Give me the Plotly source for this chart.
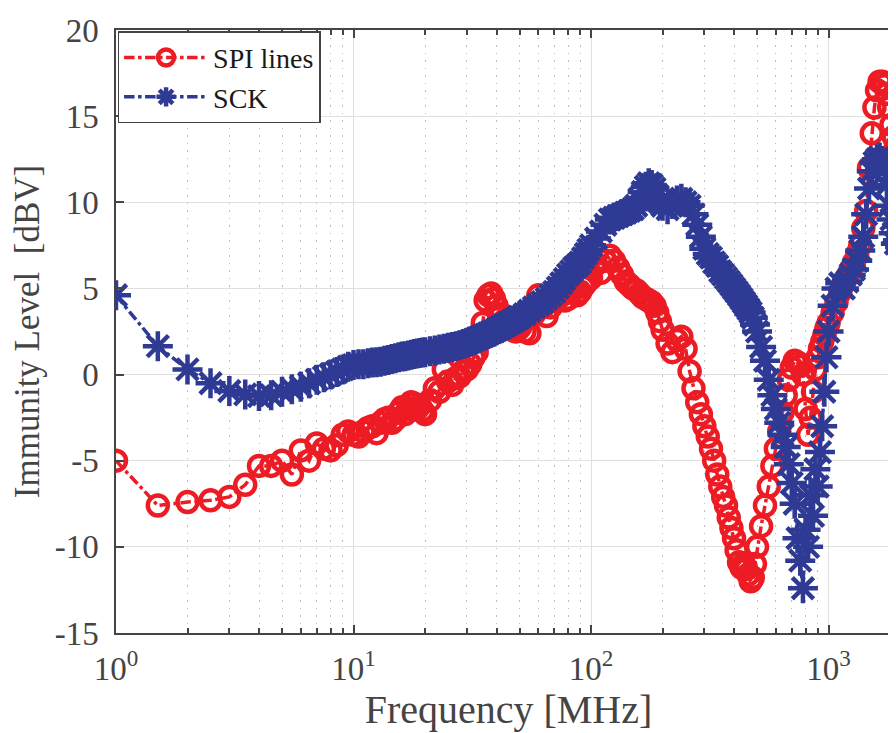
import plotly.graph_objects as go

freq_mhz = [1, 1.5, 2, 2.5, 3, 3.5, 4, 4.5, 5, 5.5, 6, 6.5, 7, 7.5, 8, 8.5, 9, 9.5, 10,
            10.5, 11, 11.5, 12, 12.5, 13, 13.5, 14, 14.5, 15, 15.5, 16, 16.5, 17, 17.5, 18, 18.5, 19, 19.5, 20,
            21, 22, 23, 24, 25, 26, 27, 28, 29, 30, 31, 32, 33, 34, 35, 36, 37, 38, 39, 40,
            41, 42, 43, 44, 45, 46, 47, 48, 49, 50,
            52.5, 55, 57.5, 60, 62.5, 65, 67.5, 70, 72.5, 75, 77.5, 80, 82.5, 85, 87.5, 90, 92.5, 95, 97.5, 100,
            105, 110, 115, 120, 125, 130, 135, 140, 145, 150, 155, 160, 165, 170, 175, 180, 185, 190, 195, 200,
            210, 220, 230, 240, 250, 260, 270, 280, 290, 300, 310, 320, 330, 340, 350, 360, 370, 380, 390, 400,
            410, 420, 430, 440, 450, 460, 470, 480, 490, 500,
            520, 540, 560, 580, 600, 620, 640, 660, 680, 700, 720, 740, 760, 780, 800, 820, 840, 860, 880, 900,
            920, 940, 960, 980, 1000,
            1040, 1080, 1120, 1160, 1200, 1240, 1280, 1320, 1360, 1400, 1440, 1480, 1520, 1560, 1600, 1640, 1680,
            1720, 1760, 1800, 1840, 1880, 1920, 1960, 2000]

spi_lines = [-5.0, -7.6, -7.4, -7.3, -7.1, -6.4, -5.3, -5.3, -5.0, -5.8, -4.4, -5.0, -4.0, -4.3, -4.4, -4.1, -3.5, -3.3, -3.5,
             -3.6, -3.3, -3.1, -3.0, -3.4, -2.8, -2.6, -2.5, -2.8, -2.6, -2.2, -1.9, -2.3, -2.0, -1.6, -1.7, -2.0, -1.8, -2.1, -2.3,
             -1.5, -0.8, -1.0, 0.3, -0.4, -0.6, -0.2, -0.1, 0.2, 0.3, 0.6, 1.0, 1.3, 2.0, 3.0, 4.3, 4.6, 4.7, 4.4, 4.0,
             3.4, 3.5, 3.1, 3.2, 2.9, 2.8, 2.6, 2.5, 2.6, 2.7,
             2.5, 2.4, 3.5, 4.6, 3.9, 3.4, 3.9, 4.4, 4.7, 4.6, 4.3, 4.4, 4.8, 5.0, 4.6, 4.8, 5.1, 5.3, 5.5, 5.6,
             6.4, 5.9, 6.6, 6.9, 6.6, 6.2, 5.8, 5.4, 5.2, 5.0, 4.9, 4.7, 4.5, 4.4, 4.3, 4.2, 4.0, 3.6, 3.1, 2.6,
             1.8, 1.3, 2.0, 2.2, 1.5, 0.2, -0.8, -1.6, -2.3, -3.0, -3.6, -4.3, -5.0, -5.8, -6.5, -7.1, -7.6, -8.3, -8.9, -9.5,
             -10.2, -10.9, -11.2, -11.0, -11.3, -11.6, -12.0, -11.8, -11.0, -10.0,
             -8.8, -7.6, -6.5, -5.3, -4.3, -3.3, -2.2, -1.2, -0.3, 0.4, 0.8, 0.7, 0.5, 0.0, -2.0, -3.5, -2.5, -1.0, 0.3, 1.0,
             1.5, 1.9, 2.3, 2.7, 3.0,
             3.6, 4.2, 4.8, 5.3, 5.7, 6.1, 6.5, 7.0, 7.5, 8.5, 9.5, 12.0, 14.0, 15.5, 16.5, 17.0, 17.0,
             16.8, 16.3, 15.5, 14.5, 13.8, 13.2, 12.8, 12.5]

sck = [4.6, 1.65, 0.3, -0.5, -0.95, -1.15, -1.25, -1.2, -1.0, -0.85, -0.7, -0.5, -0.3, -0.15, 0.0, 0.15, 0.3, 0.45, 0.55,
       0.6, 0.6, 0.65, 0.7, 0.72, 0.75, 0.8, 0.85, 0.9, 0.95, 1.0, 1.05, 1.07, 1.1, 1.15, 1.2, 1.22, 1.25, 1.28, 1.3,
       1.35, 1.4, 1.45, 1.5, 1.55, 1.6, 1.65, 1.7, 1.78, 1.85, 1.92, 2.0, 2.08, 2.15, 2.22, 2.3, 2.38, 2.45, 2.52, 2.6,
       2.68, 2.75, 2.82, 2.9, 2.98, 3.05, 3.12, 3.2, 3.28, 3.35,
       3.5, 3.7, 3.9, 4.05, 4.2, 4.4, 4.6, 4.8, 5.05, 5.3, 5.55, 5.8, 6.0, 6.2, 6.35, 6.5, 6.75, 7.0, 7.25, 7.5,
       7.9, 8.3, 8.7, 9.0, 9.1, 9.2, 9.3, 9.4, 9.5, 9.6, 9.8, 10.2, 10.6, 10.9, 11.1, 11.0, 10.8, 10.4, 10.0, 9.8,
       9.6, 9.9, 10.1, 10.2, 10.0, 9.8, 9.3, 8.7, 8.0, 7.3, 7.0, 6.8, 6.5, 6.3, 6.0, 5.8, 5.6, 5.4, 5.2, 5.0,
       4.8, 4.6, 4.4, 4.2, 4.0, 3.8, 3.6, 3.3, 2.9, 2.5,
       1.6, 0.8, -0.3, -1.2, -2.0, -2.8, -3.5, -4.2, -5.2, -6.3, -7.5, -9.5, -10.8, -12.4, -9.0, -10.0, -7.0, -8.2, -5.5, -6.5,
       -4.5, -3.0, -1.0, 1.0, 2.5,
       4.0, 5.0, 5.3, 5.0, 5.4, 5.8, 6.1, 6.6, 7.2, 8.0, 9.3, 10.8, 11.8, 12.3, 12.5, 12.6, 12.4,
       12.0, 11.0, 9.8, 9.0, 8.2, 7.6, 7.8, 7.4]

x_tick_vals = [1, 10, 100, 1000]
x_tick_text = ["10<sup>0</sup>", "10<sup>1</sup>", "10<sup>2</sup>", "10<sup>3</sup>"]
x_minor_vals = [m * d for d in (1, 10, 100, 1000) for m in range(2, 10) if m * d <= 2000]
y_tick_vals = [-15, -10, -5, 0, 5, 10, 15, 20]
y_tick_text = ["-15", "-10", "-5", "0", "5", "10", "15", "20"]

RED = "#ED1C24"
BLUE = "#2E3A94"
AXC = "#444444"
FONT = "Liberation Serif, Times New Roman, serif"

fig = go.Figure()
fig.add_trace(go.Scatter(
    x=freq_mhz, y=spi_lines, name="SPI lines", mode="lines+markers",
    line=dict(color=RED, width=3.5, dash="dashdot"),
    marker=dict(symbol="circle-open", size=20, color=RED, line=dict(width=4.5, color=RED)),
))
fig.add_trace(go.Scatter(
    x=freq_mhz, y=sck, name="SCK", mode="lines+markers",
    line=dict(color=BLUE, width=3.5, dash="dashdot"),
    marker=dict(symbol="asterisk-open", size=25, color=BLUE, line=dict(width=4.5, color=BLUE)),
))

fig.update_layout(
    width=896, height=733,
    margin=dict(l=108, r=1, t=22, b=108),
    paper_bgcolor="white", plot_bgcolor="white",
    font=dict(family=FONT, color=AXC, size=33),
    showlegend=True,
    legend=dict(
        x=0.002, y=0.998, xanchor="left", yanchor="top",
        bgcolor="white", bordercolor=AXC, borderwidth=1.5,
        font=dict(family=FONT, size=28, color="#1a1a1a"),
        itemwidth=84, tracegroupgap=0,
    ),
    xaxis=dict(
        type="log", range=[0, 3.305],
        tickvals=x_tick_vals, ticktext=x_tick_text,
        ticks="inside", ticklen=8, tickwidth=1.5, tickcolor=AXC,
        showline=True, linecolor=AXC, linewidth=1.5, mirror="ticks",
        showgrid=True, gridcolor="#E0E0E0", gridwidth=1.3,
        zeroline=False,
        minor=dict(tickvals=x_minor_vals, ticks="inside", ticklen=5, tickcolor=AXC,
                   showgrid=True, gridcolor="#BDBDBD", griddash="1.5px,6px", gridwidth=1.3),
        tickfont=dict(size=33, family=FONT, color=AXC),
        ticklabelstandoff=6,
        title=dict(text="Frequency [MHz]", font=dict(size=40, family=FONT, color=AXC), standoff=8),
    ),
    yaxis=dict(
        range=[-15, 20], tickvals=y_tick_vals, ticktext=y_tick_text,
        ticks="inside", ticklen=8, tickwidth=1.5, tickcolor=AXC,
        showline=True, linecolor=AXC, linewidth=1.5, mirror="ticks",
        showgrid=True, gridcolor="#E0E0E0", gridwidth=1.3,
        zeroline=False,
        tickfont=dict(size=33, family=FONT, color=AXC),
        ticklabelstandoff=9,
        title=dict(text="Immunity Level\u00a0\u00a0[dBV]", font=dict(size=35, family=FONT, color=AXC), standoff=6),
    ),
)

fig.write_html("out.html")
